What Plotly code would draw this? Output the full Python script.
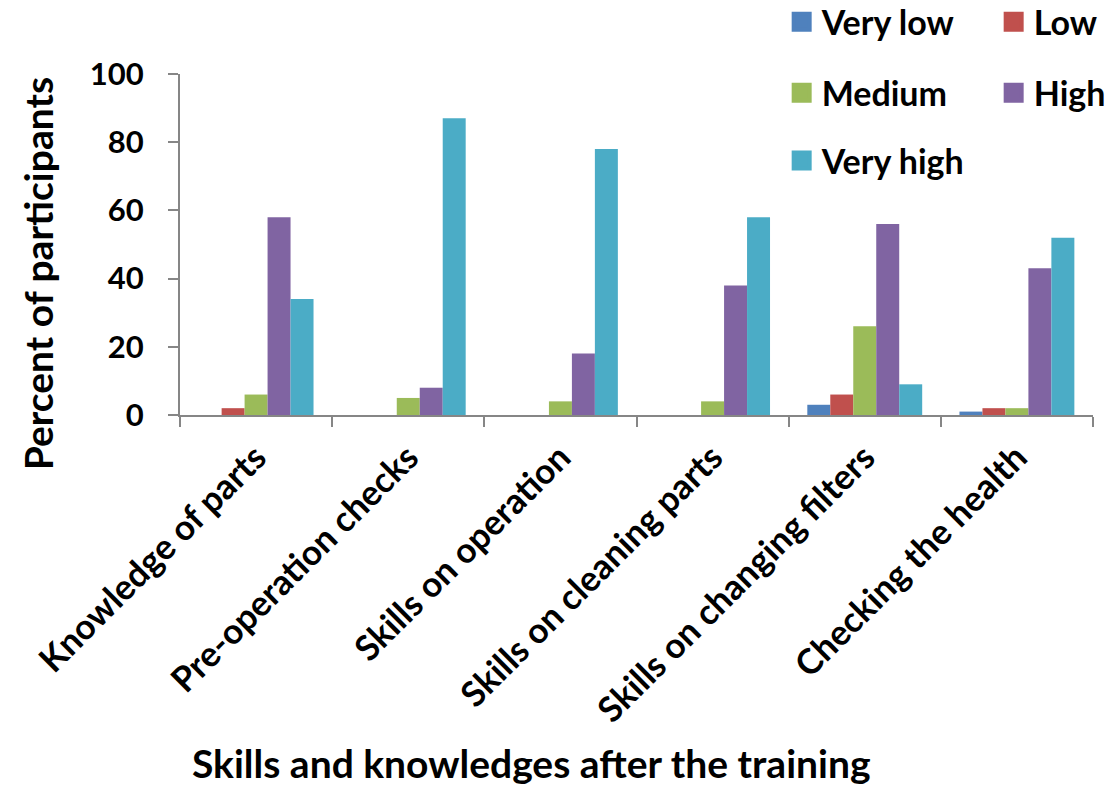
import plotly.graph_objects as go

categories = [
    "Knowledge of parts",
    "Pre-operation checks",
    "Skills on operation",
    "Skills on cleaning parts",
    "Skills on changing filters",
    "Checking the health",
]
very_low = [0, 0, 0, 0, 3, 1]
low = [2, 0, 0, 0, 6, 2]
medium = [6, 5, 4, 4, 26, 2]
high = [58, 8, 18, 38, 56, 43]
very_high = [34, 87, 78, 58, 9, 52]

series = [
    ("Very low", very_low, "#4F81BD", "legend"),
    ("Low", low, "#C0504D", "legend"),
    ("Medium", medium, "#9BBB59", "legend2"),
    ("High", high, "#8064A2", "legend2"),
    ("Very high", very_high, "#4BACC6", "legend3"),
]

FONT = "Lato"

fig = go.Figure()
for name, vals, color, leg in series:
    fig.add_trace(go.Bar(
        x=categories, y=vals, name=name, showlegend=False,
        marker=dict(color=color, line=dict(width=0)),
    ))
# legend keys: larger square swatches
for name, vals, color, leg in series:
    fig.add_trace(go.Scatter(
        x=[None], y=[None], mode="markers", name=name, legend=leg,
        marker=dict(symbol="square", size=16, color=color,
                    line=dict(color=color, width=4)),
    ))

legend_common = dict(
    orientation="h", xanchor="left", yanchor="middle",
    font=dict(family=FONT, size=34, color="black", weight="bold"),
    entrywidth=167, entrywidthmode="pixels", itemsizing="trace",
    bgcolor="rgba(0,0,0,0)", itemclick=False,
)
fig.update_layout(
    legend=dict(x=0.659, y=1.152, **legend_common),
    legend2=dict(x=0.659, y=0.944, **legend_common),
    legend3=dict(x=0.659, y=0.745, **legend_common),
)

fig.update_layout(
    width=1115, height=787,
    margin=dict(l=180, r=22, t=74, b=372, autoexpand=False),
    paper_bgcolor="white", plot_bgcolor="white",
    barmode="group", bargap=0.245, bargroupgap=0,
    font=dict(family=FONT, color="black"),
    xaxis=dict(
        showline=True, linecolor="#868686", linewidth=2,
        ticks="outside", tickson="boundaries", ticklen=10,
        tickcolor="#868686", tickwidth=2,
        tickangle=-45, automargin=False, ticklabelstandoff=6,
        tickfont=dict(family=FONT, size=35, color="black", weight="bold"),
        showgrid=False,
    ),
    yaxis=dict(
        range=[0, 100], tickvals=[0, 20, 40, 60, 80, 100],
        showline=True, linecolor="#868686", linewidth=2,
        ticks="outside", ticklen=10, tickcolor="#868686", tickwidth=2,
        automargin=False, ticklabelstandoff=18,
        tickfont=dict(family=FONT, size=31, color="black", weight="bold"),
        showgrid=False, zeroline=False,
    ),
    annotations=[
        dict(text="<b>Percent of participants</b>", textangle=-90,
             xref="paper", yref="paper", x=-0.1555, y=0.413,
             xanchor="center", yanchor="middle", showarrow=False,
             font=dict(family=FONT, size=39, color="black")),
        dict(text="<b>Skills and knowledges after the training</b>",
             xref="paper", yref="paper", x=0.3855, y=-1.02,
             xanchor="center", yanchor="middle", showarrow=False,
             font=dict(family=FONT, size=39, color="black")),
    ],
)

fig.write_html("out.html")
